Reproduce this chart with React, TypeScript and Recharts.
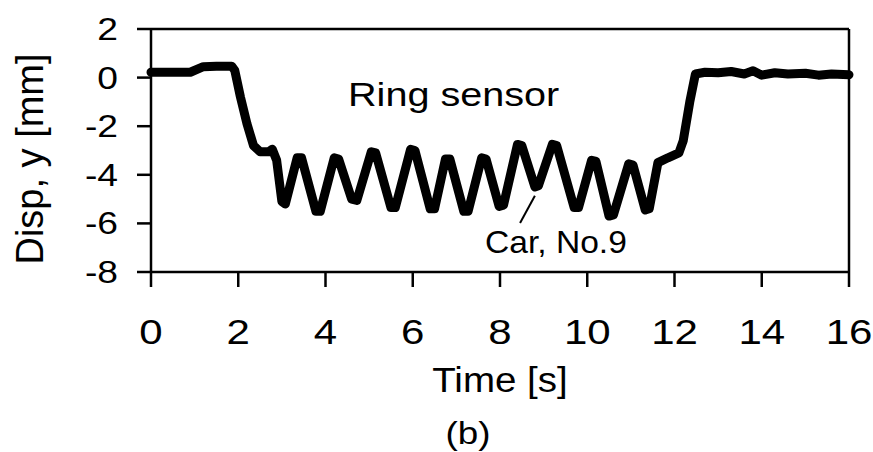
import React from 'react';
import { LineChart, Line, XAxis, YAxis, ReferenceLine, Customized } from 'recharts';

const FONT = '"Liberation Sans", Arial, Helvetica, sans-serif';

// Time axis samples [s]
const timeS = [
  0, 0.5, 0.9, 1.2, 1.5, 1.85, 1.92, 2.05, 2.2, 2.35, 2.5, 2.7, 2.78, 2.88, 3.0, 3.08,
  3.35, 3.45, 3.78, 3.88, 4.2, 4.3, 4.6, 4.72, 5.05, 5.15, 5.5, 5.6, 5.95, 6.05,
  6.4, 6.5, 6.75, 6.85, 7.17, 7.27, 7.58, 7.68, 7.98, 8.08, 8.4, 8.5, 8.8, 8.88,
  9.2, 9.3, 9.7, 9.8, 10.1, 10.2, 10.5, 10.6, 10.95, 11.05, 11.33, 11.42, 11.62,
  11.85, 12.1, 12.2, 12.35, 12.48, 12.7, 13.0, 13.3, 13.6, 13.8, 14.0, 14.3, 14.6,
  15.0, 15.3, 15.6, 16.0,
];

// Ring sensor displacement [mm]
const dispMm = [
  0.22, 0.22, 0.22, 0.45, 0.47, 0.47, 0.3, -0.8, -1.9, -2.8, -3.05, -3.05, -2.95, -3.4, -5.1, -5.2,
  -3.3, -3.3, -5.5, -5.5, -3.3, -3.35, -5.0, -5.05, -3.05, -3.1, -5.35, -5.35, -2.95, -3.0,
  -5.4, -5.4, -3.35, -3.35, -5.5, -5.5, -3.3, -3.35, -5.3, -5.25, -2.75, -2.8, -4.5, -4.45,
  -2.75, -2.8, -5.35, -5.35, -3.4, -3.45, -5.7, -5.65, -3.55, -3.6, -5.45, -5.4, -3.5,
  -3.3, -3.1, -2.6, -1.0, 0.15, 0.22, 0.2, 0.25, 0.15, 0.28, 0.1, 0.2, 0.15,
  0.18, 0.1, 0.15, 0.12,
];

const xTicks = [0, 2, 4, 6, 8, 10, 12, 14, 16];
const yTicks = [-8, -6, -4, -2, 0, 2];

const data = timeS.map((t, i) => ({ t, y: dispMm[i] }));

const XTick = ({ x, y, payload }: any) => (
  <text
    transform={`translate(${x},${y}) scale(1.2,1)`}
    textAnchor="middle"
    dy="0.71em"
    fontSize={35}
    fontFamily={FONT}
    fill="#000"
  >
    {payload.value}
  </text>
);

const YTick = ({ x, y, payload }: any) => (
  <text
    transform={`translate(${x},${y}) scale(1.2,1)`}
    textAnchor="end"
    dy="0.355em"
    fontSize={31}
    fontFamily={FONT}
    fill="#000"
  >
    {payload.value}
  </text>
);

const Annotations = () => (
  <g fontFamily={FONT} fill="#000">
    <text transform="translate(43,159) rotate(-90)" textAnchor="middle" fontSize={38}>
      Disp, y [mm]
    </text>
    <text transform="translate(500,392) scale(1.1,1)" textAnchor="middle" fontSize={35}>
      Time [s]
    </text>
    <text transform="translate(468,444) scale(1.15,1)" textAnchor="middle" fontSize={32}>
      (b)
    </text>
    <text transform="translate(348,106) scale(1.2,1)" textAnchor="start" fontSize={33}>
      Ring sensor
    </text>
    <text transform="translate(485,253) scale(1.05,1)" textAnchor="start" fontSize={32}>
      Car, No.9
    </text>
  </g>
);

export default function App() {
  return (
    <div style={{ position: 'absolute', left: 0, top: 0, width: 873, height: 452, background: '#fff' }}>
      <LineChart width={873} height={452} data={data} margin={{ top: 29, right: 24, bottom: 0, left: 0 }}>
        <XAxis
          dataKey="t"
          type="number"
          domain={[0, 16]}
          ticks={xTicks}
          height={180}
          tickSize={15}
          tickMargin={32}
          axisLine={{ stroke: '#000', strokeWidth: 2.5 }}
          tickLine={{ stroke: '#000', strokeWidth: 2.5 }}
          tick={<XTick />}
          interval={0}
        />
        <YAxis
          type="number"
          domain={[-8, 2]}
          ticks={yTicks}
          width={151}
          tickSize={14}
          tickMargin={19}
          axisLine={{ stroke: '#000', strokeWidth: 2.5 }}
          tickLine={{ stroke: '#000', strokeWidth: 2.5 }}
          tick={<YTick />}
          interval={0}
        />
        <ReferenceLine y={2} stroke="#000" strokeWidth={2.5} />
        <ReferenceLine x={16} stroke="#000" strokeWidth={2.5} />
        <ReferenceLine
          segment={[{ x: 8.46, y: -5.98 }, { x: 8.8, y: -4.86 }]}
          stroke="#000"
          strokeWidth={2}
        />
        <Line
          dataKey="y"
          type="linear"
          stroke="#000"
          strokeWidth={9}
          strokeLinejoin="round"
          strokeLinecap="round"
          dot={false}
          isAnimationActive={false}
        />
        <Customized component={Annotations} />
      </LineChart>
    </div>
  );
}
